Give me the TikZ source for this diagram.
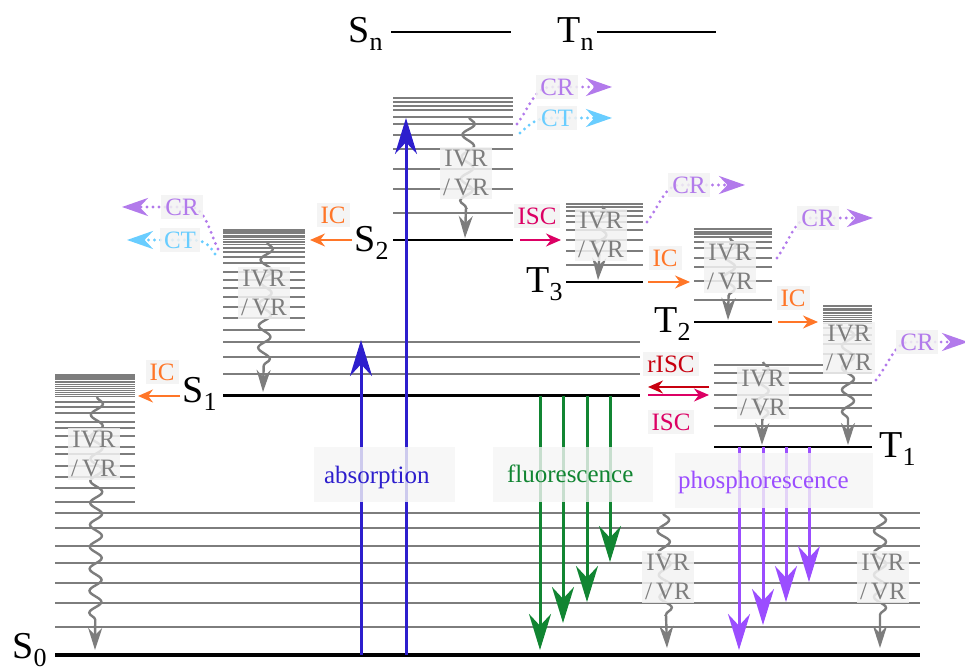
\documentclass[tikz,border=0pt]{standalone}
\usepackage{fontspec}
\setmainfont{Liberation Serif}
\usetikzlibrary{arrows.meta,decorations.pathmorphing}
\definecolor{absblue}{RGB}{45,30,205}
\definecolor{flgreen}{RGB}{17,133,50}
\definecolor{phpurple}{RGB}{155,77,255}
\definecolor{crpurple}{RGB}{178,122,235}
\definecolor{ctcyan}{RGB}{105,205,255}
\definecolor{icorange}{RGB}{255,118,40}
\definecolor{iscpink}{RGB}{220,0,100}
\definecolor{riscred}{RGB}{200,0,15}
\definecolor{vibgray}{RGB}{125,125,125}
\newcommand{\lev}[2]{#1\raisebox{-4pt}{\fontsize{13}{13}\selectfont #2}}

\begin{document}
\begin{tikzpicture}[x=0.5pt,y=-0.5pt,>=Stealth,
  every node/.style={font=\fontsize{12.5}{14.5}\selectfont},
  big/.style={font=\fontsize{19}{20}\selectfont,anchor=base west,inner sep=0pt},
  vib/.style={vibgray,line width=0.6pt},
  dense/.style={vibgray,line width=0.4pt},
  el/.style={black,line width=1pt},
  ground/.style={black,line width=2pt},
  tag/.style={fill=black!5,fill opacity=0.85,text opacity=1,inner sep=2pt},
  ivr/.style={tag,text=vibgray,align=center,inner sep=1.5pt},
  tbox/.style={fill=black!4,fill opacity=0.8,inner sep=0pt,minimum height=27.5pt},
  wavy/.style={vibgray,line width=1.2pt,-{Stealth[length=11pt,width=7pt]},decorate,
    decoration={snake,amplitude=3pt,segment length=11pt,post length=12pt}},
  rad/.style={line width=1.5pt,-{Stealth[length=18pt,width=11pt]}},
  nonrad/.style={line width=1pt,-{Stealth[length=7.5pt,width=6.5pt]}},
  charge/.style={line width=1.6pt,line cap=round,dash pattern=on 0pt off 3pt,
    -{Stealth[length=13pt,width=9pt]}}]
\useasboundingbox (0,0) rectangle (965,672);

% upper levels
\node[big] (Sn) at (348,43) {\lev{S}{n}};
\draw[el,line width=0.8pt] (391,32) -- (511,32);
\node[big] (Tn) at (557,43) {\lev{T}{n}};
\draw[el,line width=0.8pt] (597,32) -- (716,32);

% S0 and its vibrational ladder
\foreach \y in {513,528,546,563,583,603,627} \draw[vib] (55,\y) -- (920,\y);
\foreach \y in {402,407,413,422,428,436,447,454,466,477,488,502} \draw[vib] (55,\y) -- (135,\y);
\foreach \i [evaluate=\i as \y using 374+0.9*\i+0.05*\i*\i] in {0,...,14}
  \draw[dense] (55,\y) -- (135,\y);
\draw[ground] (55,655) -- (920,655);
\node[big] (S0) at (12,659) {\lev{S}{0}};

% S1
\foreach \y in {342,357,374} \draw[vib] (223,\y) -- (640,\y);
\foreach \y in {248,252,257,263,272,280,288,297,307,318,330} \draw[vib] (223,\y) -- (305,\y);
\foreach \i [evaluate=\i as \y using 229+0.7*\i+0.05*\i*\i] in {0,...,12}
  \draw[dense] (223,\y) -- (305,\y);
\draw[black,line width=1.5pt] (223,396) -- (640,396);
\node[big] (S1) at (182,403) {\lev{S}{1}};

% S2
\foreach \y in {98,102,106,110,117,124,135,149,169,189,213} \draw[vib] (393,\y) -- (513,\y);
\draw[el] (393,240) -- (513,240);
\node[big] (S2) at (354,252) {\lev{S}{2}};

% T3
\foreach \y in {204,207,211,216,222,230,240,251,265} \draw[vib] (566,\y) -- (643,\y);
\draw[el] (566,282) -- (643,282);
\node[big] (T3) at (526,293) {\lev{T}{3}};

% T2
\foreach \y in {229,232,234,237,242,248,258,267,281,300} \draw[vib] (694,\y) -- (772,\y);
\draw[el] (694,322) -- (772,322);
\node[big] (T2) at (654,333) {\lev{T}{2}};

% T1
\draw[vib] (714,365) -- (823,365);
\foreach \y in {373,383,395,408,426} \draw[vib] (714,\y) -- (872,\y);
\foreach \y in {328,335,344,354} \draw[vib] (823,\y) -- (872,\y);
\foreach \i [evaluate=\i as \y using 305+0.8*\i+0.06*\i*\i] in {0,...,12}
  \draw[dense] (823,\y) -- (872,\y);
\draw[el] (714,447) -- (872,447);
\node[big] (T1) at (879,458) {\lev{T}{1}};

% vibrational relaxation
\draw[wavy] (97,397) -- (95,650);
\draw[wavy] (267,242) -- (263,392);
\draw[wavy] (469,117) -- (465,238);
\draw[wavy] (602,206) -- (598,280);
\draw[wavy] (730,238) -- (728,320);
\draw[wavy] (763,362) -- (762,445);
\draw[wavy] (848,328) -- (848,445);
\draw[wavy] (663,513) -- (667,648);
\draw[wavy] (880,513) -- (880,648);
\node[ivr] (vrA) at (94,454) {IVR\\/\,VR};
\node[ivr] (vrB) at (264,293) {IVR\\/\,VR};
\node[ivr] (vrC) at (466,173) {IVR\\/\,VR};
\node[ivr] (vrD) at (601,235) {IVR\\/\,VR};
\node[ivr] (vrE) at (730,267) {IVR\\/\,VR};
\node[ivr] (vrF) at (763,393) {IVR\\/\,VR};
\node[ivr] (vrG) at (849,348) {IVR\\/\,VR};
\node[ivr] (vrH) at (668,577) {IVR\\/\,VR};
\node[ivr] (vrI) at (883,577) {IVR\\/\,VR};

% absorption, fluorescence, phosphorescence
\draw[rad,absblue] (361,655) -- (361,340);
\draw[rad,absblue] (406,655) -- (406,118);
\foreach \x/\y in {540/650,563/623,587/602,610/562}
  \draw[rad,flgreen] (\x,396) -- (\x,\y);
\foreach \x/\y in {739/650,763/625,786/602,809/582}
  \draw[rad,phpurple] (\x,447) -- (\x,\y);
\node[tbox,minimum width=70.5pt] (absbox) at (384.5,474.5) {};
\node[anchor=west,text=absblue] (abs) at (317,477) {absorption};
\node[tbox,minimum width=80pt] (flbox) at (573,474.5) {};
\node[anchor=west,text=flgreen] (fl) at (500,474) {fluorescence};
\node[tbox,minimum width=99pt] (phbox) at (774,480.5) {};
\node[anchor=west,text=phpurple] (ph) at (671,482) {phosphorescence};

% internal conversion and intersystem crossing
\draw[nonrad,icorange] (352,240) -- (310,240);
\node[tag,text=icorange] (icA) at (333,215) {IC};
\draw[nonrad,icorange] (180,396) -- (138,396);
\node[tag,text=icorange] (icB) at (162,372) {IC};
\draw[nonrad,icorange] (648,282) -- (690,282);
\node[tag,text=icorange] (icC) at (665,258) {IC};
\draw[nonrad,icorange] (778,322) -- (818,322);
\node[tag,text=icorange] (icD) at (793,298) {IC};
\draw[nonrad,iscpink] (520,240) -- (561,240);
\node[tag,text=iscpink] (iscA) at (537,216) {ISC};
\draw[nonrad,iscpink] (648,395) -- (709,395);
\node[tag,text=iscpink] (iscB) at (671,422) {ISC};
\draw[nonrad,riscred] (709,387) -- (648,387);
\node[tag,text=riscred] (risc) at (671,364) {rISC};

% charge recombination / transfer
\draw[charge,crpurple] (517,124) .. controls (528,110) and (535,87) .. (550,87) -- (612,87);
\node[tag,text=crpurple] (crA) at (557,87) {CR};
\draw[charge,ctcyan] (520,133) .. controls (530,124) and (536,118) .. (550,118) -- (612,118);
\node[tag,text=ctcyan] (ctA) at (557,118) {CT};
\draw[charge,crpurple] (218,249) .. controls (210,233) and (205,207) .. (190,207) -- (122,207);
\node[tag,text=crpurple] (crB) at (182,207) {CR};
\draw[charge,ctcyan] (215,254) .. controls (208,243) and (203,240) .. (190,240) -- (127,240);
\node[tag,text=ctcyan] (ctB) at (180,240) {CT};
\draw[charge,crpurple] (647,222) .. controls (660,205) and (665,185) .. (680,185) -- (745,185);
\node[tag,text=crpurple] (crC) at (689,185) {CR};
\draw[charge,crpurple] (777,258) .. controls (790,240) and (795,218) .. (810,218) -- (873,218);
\node[tag,text=crpurple] (crD) at (818,218) {CR};
\draw[charge,crpurple] (876,380) .. controls (890,362) and (895,342) .. (910,342) -- (968,342);
\node[tag,text=crpurple] (crE) at (917,342) {CR};
\end{tikzpicture}
\end{document}
